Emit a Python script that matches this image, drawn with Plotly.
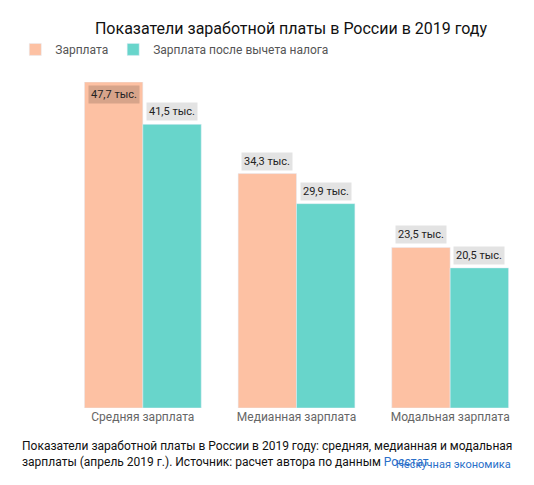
import plotly.graph_objects as go

categories = ['Средняя зарплата', 'Медианная зарплата', 'Модальная зарплата']
gross = [47.7, 34.3, 23.5]
net = [41.5, 29.9, 20.5]
gross_labels = ['47,7 тыс.', '34,3 тыс.', '23,5 тыс.']
net_labels = ['41,5 тыс.', '29,9 тыс.', '20,5 тыс.']

fig = go.Figure()
fig.add_trace(go.Bar(x=categories, y=gross, name='Зарплата', marker_color='#FDC1A3'))
fig.add_trace(go.Bar(x=categories, y=net, name='Зарплата после вычета налога', marker_color='#68D5CB'))

for i in range(3):
    top = i == 0
    fig.add_annotation(x=i - 0.19, y=gross[i], text=gross_labels[i], showarrow=False,
                       yanchor='top' if top else 'bottom', yshift=-3 if top else 3,
                       bgcolor='rgba(0,0,0,0.15)' if top else '#E3E3E3',
                       font=dict(size=11, color='#222'), borderpad=2)
    fig.add_annotation(x=i + 0.19, y=net[i], text=net_labels[i], showarrow=False,
                       yanchor='bottom', yshift=3, bgcolor='#E3E3E3',
                       font=dict(size=11, color='#222'), borderpad=2)

fig.add_annotation(xref='paper', yref='paper', x=-0.1, y=-0.09, xanchor='left', yanchor='top',
                   align='left', showarrow=False, font=dict(size=12, color='#111'),
                   text='Показатели заработной платы в России в 2019 году: средняя, медианная и модальная<br>'
                        'зарплаты (апрель 2019 г.). Источник: расчет автора по данным '
                        '<span style="color:#2a6fc9">Росстат</span>')
fig.add_annotation(xref='paper', yref='paper', x=0.97, y=-0.148, xanchor='right', yanchor='top',
                   showarrow=False, font=dict(size=11, color='#2a6fc9'), text='Нескучная экономика')

fig.update_layout(
    width=534, height=485,
    font=dict(family='Roboto, sans-serif'),
    title=dict(text='Показатели заработной платы в России в 2019 году', x=0.53, y=0.97,
               font=dict(size=16, color='#111')),
    legend=dict(orientation='h', x=-0.11, y=1.1, xanchor='left', yanchor='middle',
                font=dict(size=12, color='#555'), itemwidth=30),
    barmode='group', bargap=0.24, bargroupgap=0,
    margin=dict(l=58, r=15, t=74, b=85, autoexpand=False),
    plot_bgcolor='white', paper_bgcolor='white',
    yaxis=dict(range=[0, 47.7], visible=False),
    xaxis=dict(tickfont=dict(size=12, color='#666'), showline=False),
)
fig.write_html('out.html')
